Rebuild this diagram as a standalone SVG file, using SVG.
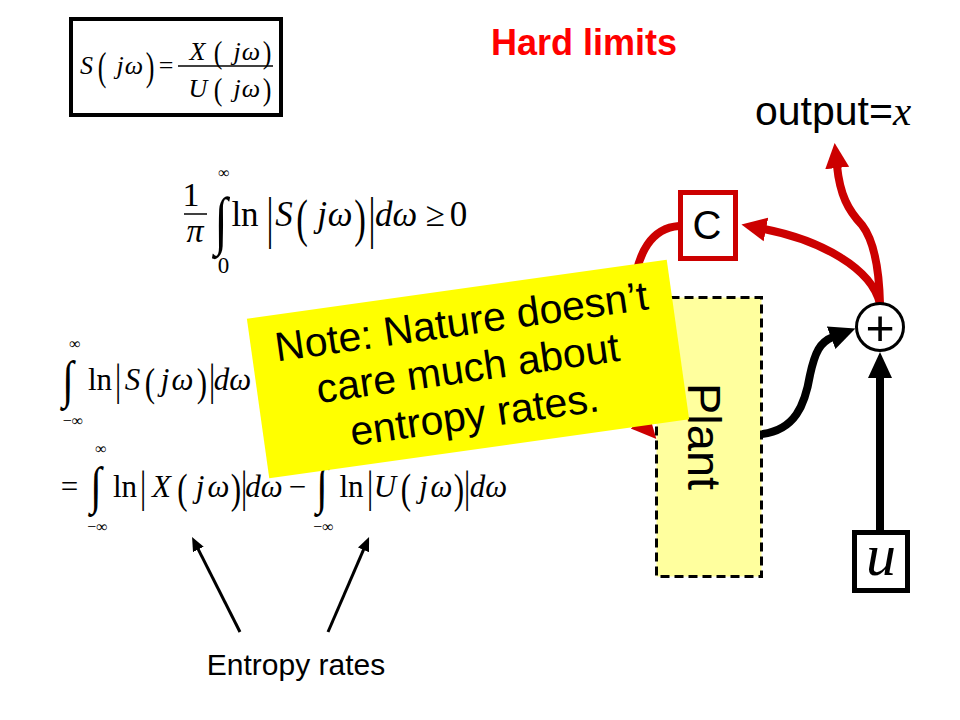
<svg xmlns="http://www.w3.org/2000/svg" width="960" height="720" viewBox="0 0 960 720">
<style>
.m{font-family:"Liberation Serif","Times New Roman",serif;fill:#000}
.i{font-style:italic}
.s{font-family:"Liberation Sans",Arial,sans-serif;fill:#000}
.bar{stroke:#000;stroke-width:1.5}
.cb{fill:none;stroke:#000;stroke-width:8}
.cr{fill:none;stroke:#CC0000;stroke-width:8}
</style>
<defs>
<marker id="ahb" markerUnits="userSpaceOnUse" markerWidth="26" markerHeight="26" viewBox="0 0 26 26" refX="2" refY="13" orient="auto"><path d="M0,1 L26,13 L0,25 z" fill="#000"/></marker>
<marker id="ahr" markerUnits="userSpaceOnUse" markerWidth="26" markerHeight="26" viewBox="0 0 26 26" refX="2" refY="13" orient="auto"><path d="M0,1 L25,13 L0,25 z" fill="#CC0000"/></marker>
<marker id="ahs" markerUnits="userSpaceOnUse" markerWidth="14" markerHeight="12" viewBox="0 0 14 12" refX="1" refY="6" orient="auto"><path d="M0,0 L14,6 L0,12 z" fill="#000"/></marker>
</defs>
<rect width="960" height="720" fill="#fff"/>

<g id="eq-def">
<rect x="71" y="19" width="210" height="96" fill="none" stroke="#000" stroke-width="4"/>
<g class="m" text-anchor="middle" font-size="26">
<text x="86.5" y="74" class="m i">S</text>
<text transform="translate(102,80) scale(1,1.5)">(</text>
<text x="120" y="74" class="m i">j</text>
<text x="134" y="74" class="m i">ω</text>
<text transform="translate(150,80) scale(1,1.5)">)</text>
<text x="166" y="74">=</text>
<text x="197.5" y="60" class="m i">X</text>
<text transform="translate(218,63) scale(1,1.2)">(</text>
<text x="237" y="60" class="m i">j</text>
<text x="251" y="60" class="m i">ω</text>
<text transform="translate(267,63) scale(1,1.2)">)</text>
<text x="198" y="97" class="m i">U</text>
<text transform="translate(218,100) scale(1,1.2)">(</text>
<text x="237" y="97" class="m i">j</text>
<text x="251" y="97" class="m i">ω</text>
<text transform="translate(267,100) scale(1,1.2)">)</text>
</g>
<line class="bar" x1="178" y1="66" x2="273" y2="66"/>
</g>

<g id="title"><text x="584" y="55" class="s" font-size="36" font-weight="bold" text-anchor="middle" style="fill:#FF0000">Hard limits</text></g>

<g id="eq-bode" class="m" text-anchor="middle" font-size="35">
<text x="191" y="206" font-size="34">1</text>
<line class="bar" x1="184" y1="214" x2="207" y2="214"/>
<text x="195" y="242" class="m i" font-size="34">π</text>
<text transform="translate(221,242) scale(0.75,1)" font-size="64">∫</text>
<text x="224" y="178" font-size="16">∞</text>
<text x="223.5" y="273" font-size="23">0</text>
<text x="245" y="226">ln</text>
<text transform="translate(270,237) scale(1,1.6)">|</text>
<text x="284" y="226" class="m i">S</text>
<text transform="translate(302,236) scale(1,1.5)">(</text>
<text x="322" y="226" class="m i">j</text>
<text x="340" y="226" class="m i">ω</text>
<text transform="translate(360,236) scale(1,1.5)">)</text>
<text transform="translate(372,237) scale(1,1.6)">|</text>
<text x="396" y="226" class="m i">dω</text>
<text x="435" y="226">≥</text>
<text x="458.5" y="226">0</text>
</g>

<g id="eq-full" class="m" text-anchor="middle" font-size="31">
<text transform="translate(68,397) scale(0.8,1)" font-size="52">∫</text>
<text x="75" y="349" font-size="16">∞</text>
<text x="73" y="426" font-size="16">−∞</text>
<text x="100" y="390">ln</text>
<text transform="translate(118,395) scale(1,1.45)">|</text>
<text x="132.5" y="390" class="m i">S</text>
<text transform="translate(150,396) scale(1,1.3)">(</text>
<text x="165" y="390" class="m i">j</text>
<text x="182.5" y="390" class="m i">ω</text>
<text transform="translate(202,396) scale(1,1.3)">)</text>
<text transform="translate(212,395) scale(1,1.45)">|</text>
<text x="232.5" y="390" class="m i">dω</text>
</g>

<g id="eq-split" class="m" text-anchor="middle" font-size="31">
<text x="69.5" y="497">=</text>
<text transform="translate(96,503) scale(0.8,1)" font-size="52">∫</text>
<text x="101" y="454" font-size="16">∞</text>
<text x="97.5" y="532" font-size="16">−∞</text>
<text x="125" y="497">ln</text>
<text transform="translate(143,502) scale(1,1.45)">|</text>
<text x="161.5" y="497" class="m i">X</text>
<text transform="translate(182.5,503) scale(1,1.35)">(</text>
<text x="200" y="497" class="m i">j</text>
<text x="218.5" y="497" class="m i">ω</text>
<text transform="translate(236,503) scale(1,1.35)">)</text>
<text transform="translate(244,502) scale(1,1.45)">|</text>
<text x="264" y="497" class="m i">dω</text>
<text x="297.5" y="497">−</text>
<text transform="translate(322,503) scale(0.8,1)" font-size="52">∫</text>
<text x="323.5" y="532" font-size="16">−∞</text>
<text x="351.5" y="497">ln</text>
<text transform="translate(370,502) scale(1,1.45)">|</text>
<text x="385" y="497" class="m i">U</text>
<text transform="translate(406,503) scale(1,1.35)">(</text>
<text x="423.5" y="497" class="m i">j</text>
<text x="441.5" y="497" class="m i">ω</text>
<text transform="translate(459,503) scale(1,1.35)">)</text>
<text transform="translate(467,502) scale(1,1.45)">|</text>
<text x="488.5" y="497" class="m i">dω</text>
</g>

<g id="entropy-label"><text x="296" y="675" class="s" font-size="30" text-anchor="middle">Entropy rates</text></g>

<g id="connectors">
<line x1="240" y1="632" x2="197.9" y2="548.6" stroke="#000" stroke-width="3" marker-end="url(#ahs)"/>
<line x1="328" y1="632" x2="363.9" y2="548.9" stroke="#000" stroke-width="3" marker-end="url(#ahs)"/>
<path class="cr" d="M679 226 C652 228 637 252 634 290 L632 380 C631 400 632 412 641 422" marker-end="url(#ahr)"/>
<path class="cr" d="M880 304 C872 268 820 240 764 229" marker-end="url(#ahr)"/>
<path class="cr" d="M880 304 C879 262 872 238 862 225 C848 210 840 195 837 166" marker-end="url(#ahr)"/>
<path class="cb" d="M762 434 C795 430 805 405 810 375 C815 352 820 342 833 337" marker-end="url(#ahb)"/>
<path class="cb" d="M880 531 L880 376" marker-end="url(#ahb)"/>
</g>

<g id="node-C">
<rect x="680.5" y="192.5" width="55" height="66" fill="#fff" stroke="#CC0000" stroke-width="5"/>
<text x="707" y="239" class="s" font-size="40" text-anchor="middle">C</text>
</g>

<g id="node-plant">
<rect x="656.5" y="297.5" width="105" height="279" fill="#FFFF9E" stroke="#000" stroke-width="3" stroke-dasharray="9 5"/>
<text transform="translate(688,383) rotate(90)" class="s" font-size="47">Plant</text>
</g>

<g id="node-sum">
<circle cx="880" cy="327" r="23.5" fill="#fff" stroke="#000" stroke-width="3"/>
<text x="880" y="345" class="s" font-size="50" text-anchor="middle">+</text>
</g>

<g id="node-u">
<rect x="854.5" y="532.5" width="53" height="58" fill="#fff" stroke="#000" stroke-width="5"/>
<text x="881" y="575" class="m i" font-size="60" text-anchor="middle">u</text>
</g>

<g id="output-label"><text x="755" y="125" class="s" font-size="41">output=<tspan class="m i" font-family="Liberation Serif" font-style="italic">x</tspan></text></g>

<g id="note" transform="translate(468,369) rotate(-8)">
<rect x="-212" y="-80.5" width="424" height="161" fill="#FFFF00"/>
<g class="s" font-size="41" text-anchor="middle">
<text x="0" y="-34">Note: Nature doesn’t</text>
<text x="0" y="13">care much about</text>
<text x="0" y="60">entropy rates.</text>
</g>
</g>
</svg>
